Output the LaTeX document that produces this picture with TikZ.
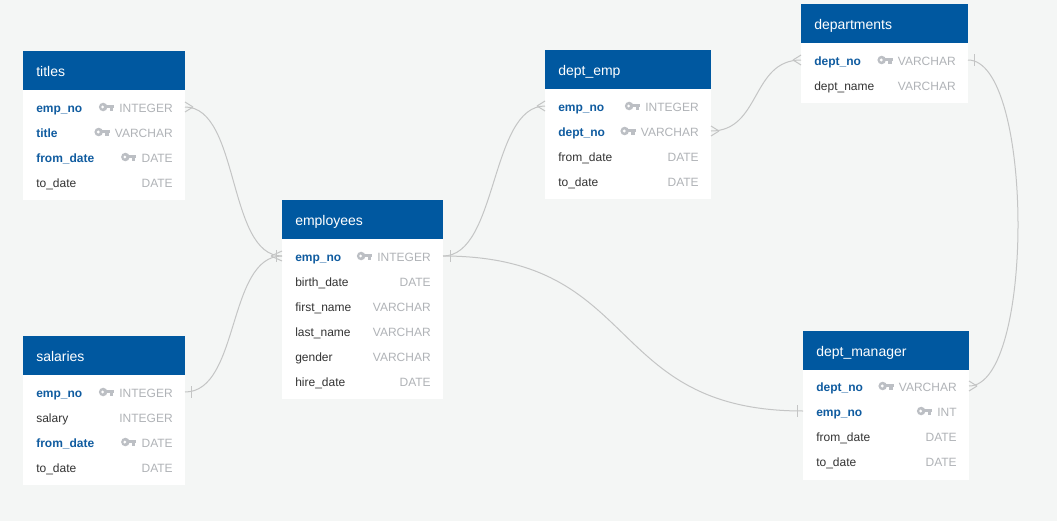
\documentclass[tikz,border=0pt]{standalone}
\usepackage{fontspec}
\setmainfont{Liberation Sans}
\definecolor{bgc}{RGB}{244,246,245}
\definecolor{hdrblue}{RGB}{0,88,160}
\definecolor{keyblue}{RGB}{16,92,160}
\definecolor{fldtext}{RGB}{51,51,51}
\definecolor{typgray}{RGB}{176,179,183}
\definecolor{keygray}{RGB}{188,191,196}
\definecolor{conngray}{RGB}{196,197,197}
\tikzset{
  hdr/.style={fill=hdrblue, draw=none, inner sep=0, anchor=north west},
  bodybox/.style={fill=white, draw=none, inner sep=0, anchor=north west},
  hdrtext/.style={anchor=base west, text=white, font=\fontsize{10.5}{12}\selectfont, inner sep=0},
  fld/.style={anchor=base west, text=fldtext, font=\fontsize{9}{11}\selectfont, inner sep=0},
  keyfld/.style={anchor=base west, text=keyblue, font=\fontsize{9}{11}\selectfont\bfseries, inner sep=0},
  typ/.style={anchor=base east, text=typgray, font=\fontsize{9}{11}\selectfont, inner sep=0},
  conn/.style={draw=conngray, line width=0.75pt},
  keyicon/.pic={
    \fill[keygray] (-11,0) circle[radius=3.2pt];
    \fill[white] (-11.5,0) circle[radius=1.2pt];
    \fill[keygray] (-8,-1.6) rectangle (0,1.4);
    \fill[keygray] (-4.5,1) rectangle (-1,3.6);
  }
}
% table: #1 name, #2 x, #3 y, #4 width, #5 rows, #6 title
\newcommand\erdtable[6]{%
  \node[hdr, minimum width=#4*0.75pt, minimum height=39*0.75pt] (#1-h) at (#2,#3) {};
  \node[bodybox, minimum width=#4*0.75pt, minimum height={(25*#5+10)*0.75pt}] (#1-b) at (#2,#3+39) {};
  \node[hdrtext] (#1-title) at (#2+13,#3+25.5) {#6};
}
% rows: #1 id, #2 x left, #3 x right, #4 y, #5 field, #6 type
\newcommand\keyrow[6]{%
  \coordinate (#1-L) at (#2,#4);
  \coordinate (#1-R) at (#3,#4);
  \node[keyfld] (#1-f) at (#2+13,#4+5) {#5};
  \node[typ] (#1-t) at (#3-12,#4+5) {#6};
  \path (#1-t.base west) ++(-5,-5) pic {keyicon};
}
\newcommand\plainrow[6]{%
  \coordinate (#1-L) at (#2,#4);
  \coordinate (#1-R) at (#3,#4);
  \node[fld] (#1-f) at (#2+13,#4+5) {#5};
  \node[typ] (#1-t) at (#3-12,#4+5) {#6};
}
% crow's foot: #1 point, #2 direction, #3 depth
\newcommand\crowfoot[3]{\draw[conn] ([shift={(#2*#3,0)}]#1) -- ([shift={(0,-5)}]#1) ([shift={(#2*#3,0)}]#1) -- ([shift={(0,5)}]#1);}
\newcommand\onebar[2]{\draw[conn] ([shift={(#2,-6)}]#1) -- ([shift={(#2,6)}]#1);}
\begin{document}
\begin{tikzpicture}[x=0.75pt,y=-0.75pt]
\useasboundingbox (0,0) rectangle (1057,521);
\fill[bgc] (0,0) rectangle (1057,521);

% titles
\erdtable{ti}{23}{51}{162}{4}{titles}
\keyrow{ti-empno}{23}{185}{107}{emp\_no}{INTEGER}
\keyrow{ti-title}{23}{185}{132}{title}{VARCHAR}
\keyrow{ti-from}{23}{185}{157}{from\_date}{DATE}
\plainrow{ti-to}{23}{185}{182}{to\_date}{DATE}

% employees
\erdtable{em}{282}{200}{161}{6}{employees}
\keyrow{em-empno}{282}{443}{256}{emp\_no}{INTEGER}
\plainrow{em-birth}{282}{443}{281}{birth\_date}{DATE}
\plainrow{em-first}{282}{443}{306}{first\_name}{VARCHAR}
\plainrow{em-last}{282}{443}{331}{last\_name}{VARCHAR}
\plainrow{em-gender}{282}{443}{356}{gender}{VARCHAR}
\plainrow{em-hire}{282}{443}{381}{hire\_date}{DATE}

% salaries
\erdtable{sa}{23}{336}{162}{4}{salaries}
\keyrow{sa-empno}{23}{185}{392}{emp\_no}{INTEGER}
\plainrow{sa-salary}{23}{185}{417}{salary}{INTEGER}
\keyrow{sa-from}{23}{185}{442}{from\_date}{DATE}
\plainrow{sa-to}{23}{185}{467}{to\_date}{DATE}

% dept_emp
\erdtable{de}{545}{50}{166}{4}{dept\_emp}
\keyrow{de-empno}{545}{711}{106}{emp\_no}{INTEGER}
\keyrow{de-deptno}{545}{711}{131}{dept\_no}{VARCHAR}
\plainrow{de-from}{545}{711}{156}{from\_date}{DATE}
\plainrow{de-to}{545}{711}{181}{to\_date}{DATE}

% departments
\erdtable{dp}{801}{4}{167}{2}{departments}
\keyrow{dp-deptno}{801}{968}{60}{dept\_no}{VARCHAR}
\plainrow{dp-name}{801}{968}{85}{dept\_name}{VARCHAR}

% dept_manager
\erdtable{dm}{803}{331}{166}{4}{dept\_manager}
\keyrow{dm-deptno}{803}{969}{386}{dept\_no}{VARCHAR}
\keyrow{dm-empno}{803}{969}{411}{emp\_no}{INT}
\plainrow{dm-from}{803}{969}{436}{from\_date}{DATE}
\plainrow{dm-to}{803}{969}{461}{to\_date}{DATE}

% connectors
\draw[conn] (ti-empno-R) .. controls +(55,0) and +(-55,0) .. (em-empno-L);
\draw[conn] (sa-empno-R) .. controls +(55,0) and +(-55,0) .. (em-empno-L);
\draw[conn] (em-empno-R) .. controls +(55,0) and +(-55,0) .. (de-empno-L);
\draw[conn] (em-empno-R) .. controls +(200,0) and +(-200,0) .. (dm-empno-L);
\draw[conn] (de-deptno-R) .. controls +(50,0) and +(-50,0) .. (dp-deptno-L);
\draw[conn] (dp-deptno-R) .. controls +(66,0) and +(66,0) .. (dm-deptno-R);

% end marks
\crowfoot{ti-empno-R}{1}{8}
\crowfoot{em-empno-L}{-1}{11}
\onebar{em-empno-L}{-6}
\onebar{sa-empno-R}{6}
\onebar{em-empno-R}{7}
\crowfoot{de-empno-L}{-1}{8}
\onebar{dm-empno-L}{-6}
\crowfoot{de-deptno-R}{1}{8}
\crowfoot{dp-deptno-L}{-1}{8}
\onebar{dp-deptno-R}{6}
\crowfoot{dm-deptno-R}{1}{8}
\end{tikzpicture}
\end{document}
